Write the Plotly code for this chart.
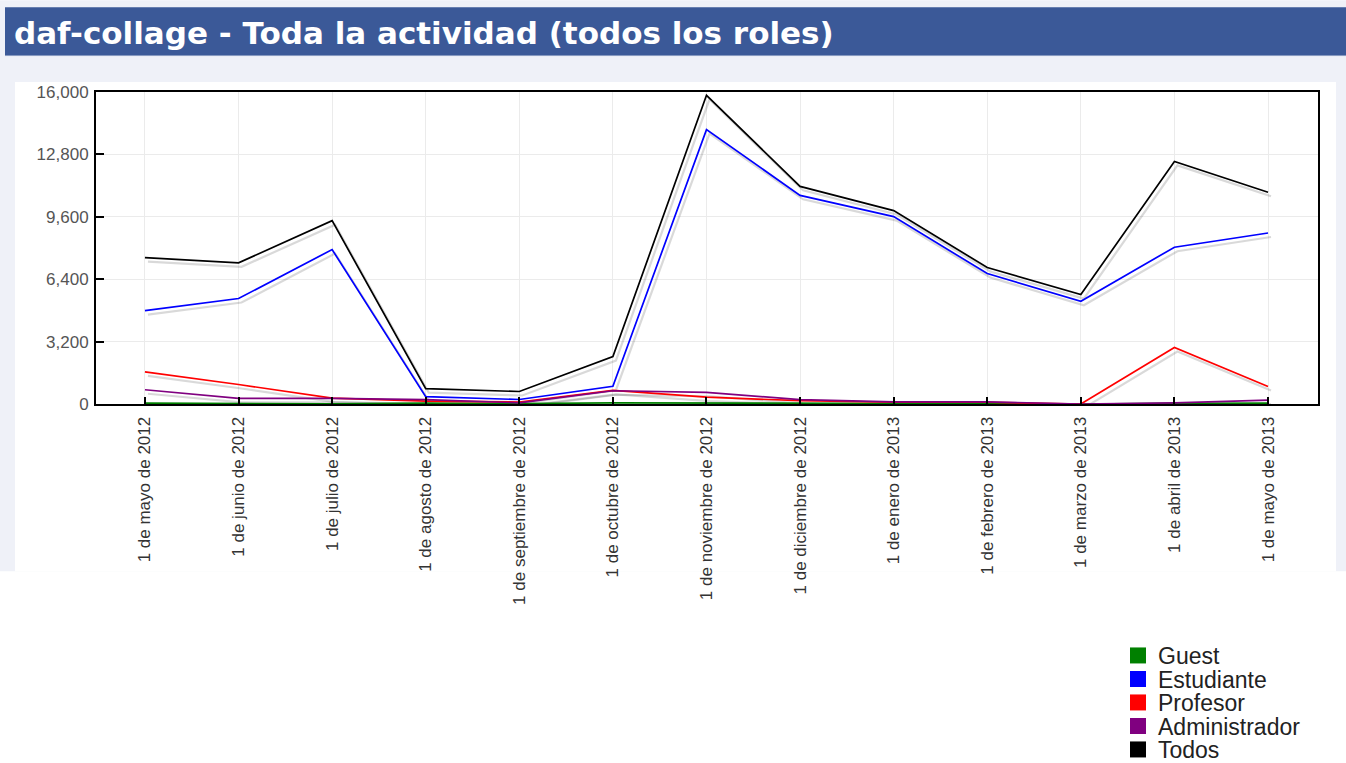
import plotly.graph_objects as go

months = ["1 de mayo de 2012", "1 de junio de 2012", "1 de julio de 2012", "1 de agosto de 2012",
          "1 de septiembre de 2012", "1 de octubre de 2012", "1 de noviembre de 2012",
          "1 de diciembre de 2012", "1 de enero de 2013", "1 de febrero de 2013",
          "1 de marzo de 2013", "1 de abril de 2013", "1 de mayo de 2013"]

guest = [40, 30, 10, 40, 20, 60, 50, 60, 20, 10, 0, 30, 40]
estudiante = [4790, 5410, 7920, 380, 230, 910, 14070, 10700, 9610, 6690, 5270, 8040, 8770]
profesor = [1650, 1000, 300, 150, 100, 700, 350, 170, 90, 90, 0, 2900, 900]
administrador = [730, 290, 290, 220, 60, 680, 600, 220, 110, 110, 0, 60, 200]
todos = [7510, 7240, 9400, 790, 640, 2430, 15830, 11160, 9920, 7000, 5610, 12440, 10860]

series_names = ["Guest", "Estudiante", "Profesor", "Administrador", "Todos"]
series_values = [guest, estudiante, profesor, administrador, todos]
series_colors = ["#008000", "#0000ff", "#ff0000", "#800080", "#000000"]

y_ticks = [0, 3200, 6400, 9600, 12800, 16000]

W, H = 1346, 763
PL, PR, PT, PB = 96, 1318, 92, 404.5  # plot area in pixels
xs = list(range(len(months)))
x_range = [-0.523, 12.534]
y_range = [0, 16000]
px_x = (PR - PL) / (x_range[1] - x_range[0])
px_y = (PB - PT) / (y_range[1] - y_range[0])
sdx, sdy = 3 / px_x, 4 / px_y  # shadow offset in data units


def fx(p):
    return (p - PL) / (PR - PL)


def fy(p):
    return (PB - p) / (PB - PT)


fig = go.Figure()

# shadows
for name, vals in zip(series_names, series_values):
    fig.add_trace(go.Scatter(x=xs, y=vals, mode="lines", xaxis="x2", yaxis="y2",
                             line=dict(color="rgba(0,0,0,0.15)", width=2.2),
                             showlegend=False, hoverinfo="skip"))
# main lines
for name, vals, col in zip(series_names, series_values, series_colors):
    fig.add_trace(go.Scatter(x=xs, y=vals, mode="lines", xaxis="x3", yaxis="y3", name=name,
                             legendgroup=name, line=dict(color=col, width=1.7), showlegend=False))

# legend entries, one legend box per entry
legend_layout = {}
for i, (name, col) in enumerate(zip(series_names, series_colors)):
    lid = "legend" if i == 0 else f"legend{i + 1}"
    fig.add_trace(go.Scatter(x=[None], y=[None], mode="markers", name=name, legendgroup=name,
                             legend=lid, marker=dict(symbol="square", size=16, color=col)))
    cy = 655.5 + 23.5 * i
    legend_layout[lid] = dict(xref="container", yref="container", x=1118 / W, y=1 - cy / H,
                              xanchor="left", yanchor="middle", valign="middle", orientation="h",
                              font=dict(size=23, color="#222222"), bgcolor="rgba(0,0,0,0)",
                              borderwidth=0, itemsizing="trace")

axis_common = dict(showline=True, linecolor="#000000", linewidth=2, mirror=True,
                   gridcolor="#ebebeb", gridwidth=1, zeroline=False,
                   ticks="inside", tickcolor="#000000", tickwidth=1.5, automargin=False)

fig.update_layout(
    width=W, height=H,
    margin=dict(l=PL, r=W - PR, t=PT, b=H - PB, pad=0, autoexpand=False),
    paper_bgcolor="#ffffff", plot_bgcolor="rgba(0,0,0,0)",
    font=dict(family="Liberation Sans, Arial, sans-serif", color="#333333"),
    xaxis=dict(range=x_range, tickmode="array", tickvals=xs, ticktext=months, tickangle=-90,
               ticklen=7, ticklabelstandoff=4, tickfont=dict(size=17, color="#333333"), **axis_common),
    yaxis=dict(range=y_range, tickmode="array", tickvals=y_ticks,
               ticktext=[f"{v:,}" for v in y_ticks], ticklen=8, ticklabelstandoff=2,
               tickfont=dict(size=17, color="#555555"), **axis_common),
    xaxis2=dict(overlaying="x", visible=False, range=[x_range[0] - sdx, x_range[1] - sdx]),
    yaxis2=dict(overlaying="y", visible=False, range=[y_range[0] + sdy, y_range[1] + sdy]),
    xaxis3=dict(overlaying="x", visible=False, range=x_range),
    yaxis3=dict(overlaying="y", visible=False, range=y_range),
    showlegend=True,
    shapes=[
        dict(type="rect", xref="paper", yref="paper", x0=fx(0), x1=fx(W), y0=fy(0), y1=fy(572),
             fillcolor="#eff1f8", line=dict(width=0), layer="below"),
        dict(type="rect", xref="paper", yref="paper", x0=fx(15), x1=fx(1336), y0=fy(82), y1=fy(572),
             fillcolor="#ffffff", line=dict(width=0), layer="below"),
        dict(type="rect", xref="paper", yref="paper", x0=fx(5), x1=fx(W), y0=fy(7), y1=fy(56),
             fillcolor="#3b5998", line=dict(width=0), layer="below"),
        dict(type="line", xref="paper", yref="paper", x0=fx(5), x1=fx(W), y0=fy(55.5), y1=fy(55.5),
             line=dict(color="#8b9dc3", width=1), layer="below"),
    ],
    annotations=[
        dict(text="<b>daf-collage - Toda la actividad (todos los roles)</b>", xref="paper", yref="paper",
             x=fx(12), y=fy(33), xanchor="left", yanchor="middle", showarrow=False,
             font=dict(family="DejaVu Sans, Verdana, sans-serif", size=31, color="#ffffff")),
    ],
)
fig.update_layout(**legend_layout)

fig.write_html("out.html", config={"displayModeBar": False},
               post_script="document.body.style.margin='0';")
